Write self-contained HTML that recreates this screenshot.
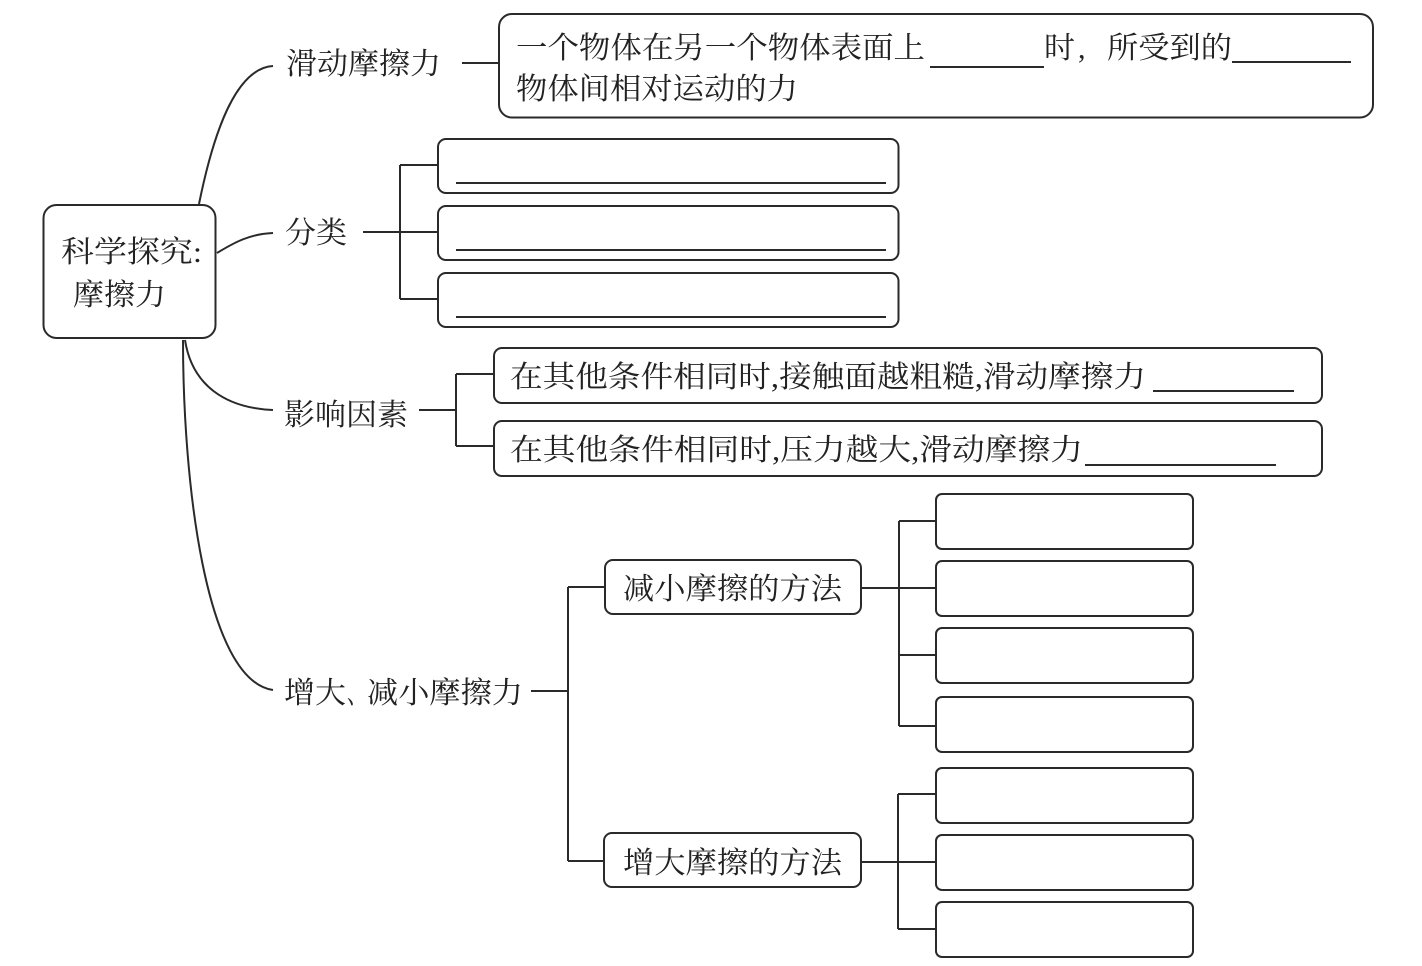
<!DOCTYPE html>
<html><head><meta charset="utf-8">
<style>
html,body{margin:0;padding:0;background:#fff}
svg{display:block}
text{font-family:"Liberation Serif","Noto Serif CJK SC",serif;font-size:30px;fill:#222}
.b{fill:#fff;stroke:#2a2a2a;stroke-width:2}
.l{fill:none;stroke:#2a2a2a;stroke-width:2}
</style></head><body>
<svg width="1422" height="966" viewBox="0 0 1422 966" xmlns="http://www.w3.org/2000/svg">
<rect width="1422" height="966" fill="#fff"/>
<!-- curves -->
<path class="l" d="M199 204C215 125 238 68 273 66"/>
<path class="l" d="M217 253C235 242 250 234 273 233"/>
<path class="l" d="M185 340C192 385 225 408 273 410"/>
<path class="l" d="M183 340C183 480 205 680 273 690"/>
<!-- connectors -->
<path class="l" d="M462 63H499M363 232H438M400 165V299M400 165H438M400 299H438"/>
<path class="l" d="M419 410H456M456 374V446M456 374H494M456 446H494"/>
<path class="l" d="M531 691H568M568 587V861M568 587H605M568 861H604"/>
<path class="l" d="M861 588H936M899 521V726M899 521H936M899 655H936M899 726H936"/>
<path class="l" d="M860 862H936M898 794V929M898 794H936M898 929H936"/>
<!-- boxes -->
<rect class="b" x="43.500" y="205" width="172" height="133" rx="13"/>
<rect class="b" x="499" y="14" width="874" height="103.500" rx="13"/>
<rect class="b" x="438" y="139" width="460.500" height="54" rx="8"/>
<rect class="b" x="438" y="206" width="460.500" height="54" rx="8"/>
<rect class="b" x="438" y="273" width="460.500" height="54" rx="8"/>
<rect class="b" x="494" y="348" width="828" height="55" rx="8"/>
<rect class="b" x="494" y="421" width="828" height="55" rx="8"/>
<rect class="b" x="605" y="560" width="256" height="54" rx="8"/>
<rect class="b" x="604" y="833" width="257" height="54" rx="8"/>
<rect class="b" x="936" y="494" width="257" height="55" rx="6"/>
<rect class="b" x="936" y="561" width="257" height="55" rx="6"/>
<rect class="b" x="936" y="628" width="257" height="55" rx="6"/>
<rect class="b" x="936" y="697" width="257" height="55" rx="6"/>
<rect class="b" x="936" y="768" width="257" height="55" rx="6"/>
<rect class="b" x="936" y="835" width="257" height="55" rx="6"/>
<rect class="b" x="936" y="902" width="257" height="55" rx="6"/>
<!-- blanks -->
<path class="l" d="M930 67H1044M1232 62H1351M456 183H886M456 250H886M456 317H886M1153 391H1294M1085 465H1276"/>
<!-- labels -->
<text x="61" y="262" textLength="141" lengthAdjust="spacingAndGlyphs">科学探究:</text>
<text x="73" y="305" textLength="93" lengthAdjust="spacingAndGlyphs">摩擦力</text>
<text x="286" y="74" textLength="155" lengthAdjust="spacingAndGlyphs">滑动摩擦力</text>
<text x="285" y="243" textLength="62" lengthAdjust="spacingAndGlyphs">分类</text>
<text x="284" y="425" textLength="124" lengthAdjust="spacingAndGlyphs">影响因素</text>
<text x="284" y="703" textLength="62" lengthAdjust="spacingAndGlyphs">增大</text>
<text x="347" y="703" textLength="20" lengthAdjust="spacingAndGlyphs">、</text>
<text x="367" y="703" textLength="156" lengthAdjust="spacingAndGlyphs">减小摩擦力</text>
<text x="516" y="58" textLength="409" lengthAdjust="spacingAndGlyphs">一个物体在另一个物体表面上</text>
<text x="1044" y="58" textLength="31" lengthAdjust="spacingAndGlyphs">时</text>
<text x="1078" y="58">,</text>
<text x="1107" y="58" textLength="125" lengthAdjust="spacingAndGlyphs">所受到的</text>
<text x="516" y="99" textLength="282" lengthAdjust="spacingAndGlyphs">物体间相对运动的力</text>
<text x="510" y="387" textLength="636" lengthAdjust="spacingAndGlyphs">在其他条件相同时,接触面越粗糙,滑动摩擦力</text>
<text x="510" y="460" textLength="573" lengthAdjust="spacingAndGlyphs">在其他条件相同时,压力越大,滑动摩擦力</text>
<text x="623" y="599" textLength="219" lengthAdjust="spacingAndGlyphs">减小摩擦的方法</text>
<text x="623" y="873" textLength="219" lengthAdjust="spacingAndGlyphs">增大摩擦的方法</text>
</svg>
</body></html>
